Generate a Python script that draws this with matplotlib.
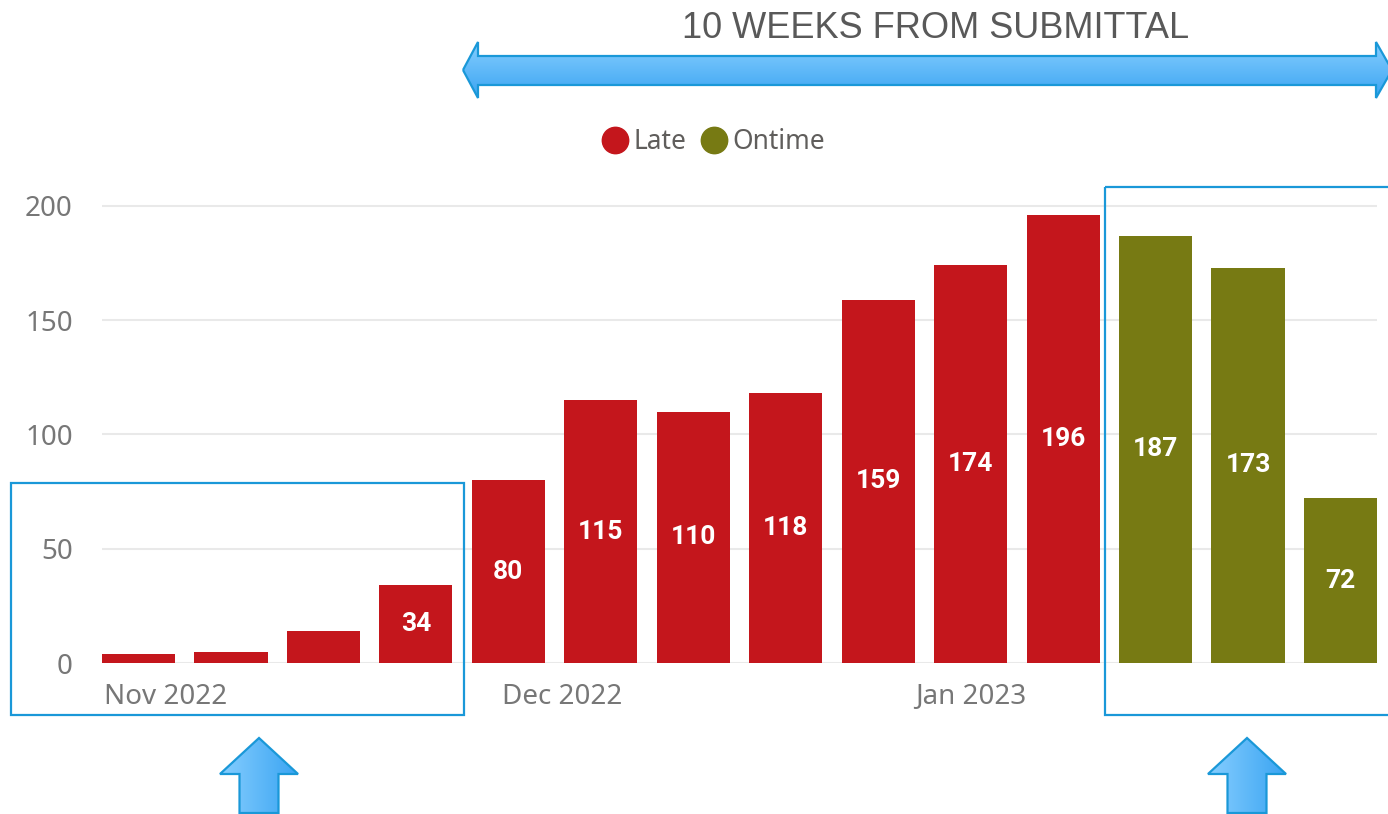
import matplotlib
matplotlib.use("Agg")
import matplotlib.pyplot as plt
import numpy as np
from matplotlib.patches import Polygon, Rectangle
from matplotlib.lines import Line2D
from matplotlib.colors import LinearSegmentedColormap

# ---- data ----
late_values = [4, 5, 14, 34, 80, 115, 110, 118, 159, 174, 196]
ontime_values = [187, 173, 72]
series_names = ["Late", "Ontime"]
month_labels = ["Nov 2022", "Dec 2022", "Jan 2023"]
month_positions = [0.29, 4.58, 9.0]   # in week-bar index units
y_ticks = [0, 50, 100, 150, 200]
min_label_value = 20
title_text = "10 WEEKS FROM SUBMITTAL"

RED = "#C4161C"
OLIVE = "#777A13"
GRID = "#E9E9E9"
TICK = "#777777"

W, H = 1388, 814
fig = plt.figure(figsize=(W / 100, H / 100), dpi=100)

bw = 0.79
n_late = len(late_values)
n_all = n_late + len(ontime_values)
x_late = np.arange(n_late)
x_on = np.arange(n_late, n_all)

# axes placement in pixels
px_left, px_right = 102, 1377
px_zero, px_200 = 663, 206
ymax = 210
ppu = (px_zero - px_200) / 200.0
px_top = px_zero - ymax * ppu
ax = fig.add_axes([px_left / W, (H - px_zero) / H, (px_right - px_left) / W, (px_zero - px_top) / H])

ax.bar(x_late, late_values, width=bw, color=RED, zorder=3)
ax.bar(x_on, ontime_values, width=bw, color=OLIVE, zorder=3)
ax.set_xlim(-bw / 2, n_all - 1 + bw / 2)
ax.set_ylim(0, ymax)

for xs, vals in ((x_late, late_values), (x_on, ontime_values)):
    for x, v in zip(xs, vals):
        if v >= min_label_value:
            ax.text(x, v / 2, str(v), ha="center", va="center", color="white",
                    fontsize=19, fontweight="bold", family="Roboto", zorder=4)

ax.set_yticks(y_ticks)
ax.set_yticklabels([str(t) for t in y_ticks])
ax.tick_params(axis="y", length=0, pad=21, labelsize=20, labelcolor=TICK)
for lab in ax.get_yticklabels():
    lab.set_family("Noto Sans")
ax.set_xticks([])
ax.grid(axis="y", color=GRID, linewidth=1.5, zorder=0)
for s in ax.spines.values():
    s.set_visible(False)

for lbl, pos in zip(month_labels, month_positions):
    ax.text(pos, -0.07, lbl, transform=ax.get_xaxis_transform(), ha="center", va="center",
            fontsize=20, color=TICK, family="Noto Sans")

handles = [Line2D([], [], marker="o", linestyle="", markersize=19, color=RED),
           Line2D([], [], marker="o", linestyle="", markersize=19, color=OLIVE)]
fig.legend(handles, series_names, loc="center", bbox_to_anchor=(707 / W, 1 - 142 / H),
           ncol=2, frameon=False, handletextpad=-0.3, columnspacing=0.05,
           prop={"family": "Noto Sans", "size": 19}, labelcolor="#605E5C")

# ---- overlay annotations (pixel coordinates) ----
ov = fig.add_axes([0, 0, 1, 1], zorder=10)
ov.set_xlim(0, W)
ov.set_ylim(H, 0)
ov.axis("off")

EDGE = "#1A98D8"
cmap = LinearSegmentedColormap.from_list("b", ["#86CEFF", "#3AA4F2"])


def grad_poly(verts, vertical=True):
    verts = np.array(verts, dtype=float)
    x0, x1 = verts[:, 0].min(), verts[:, 0].max()
    y0, y1 = verts[:, 1].min(), verts[:, 1].max()
    g = np.linspace(0, 1, 256)
    img = g.reshape(-1, 1) if vertical else g.reshape(1, -1)
    im = ov.imshow(img, cmap=cmap, extent=(x0, x1, y1, y0), aspect="auto",
                   origin="upper", zorder=1, interpolation="bilinear")
    poly = Polygon(verts, closed=True, facecolor="none", edgecolor=EDGE, lw=1.6, zorder=2)
    ov.add_patch(poly)
    im.set_clip_path(poly)


# double arrow
grad_poly([(463, 70), (478, 42), (478, 56), (1376, 56), (1376, 42), (1392, 70),
           (1376, 98), (1376, 85), (478, 85), (478, 98)], vertical=True)
ov.set_xlim(0, W)
ov.set_ylim(H, 0)


def up_arrow(cx):
    grad_poly([(cx, 738), (cx + 39, 774), (cx + 19.5, 774), (cx + 19.5, 813),
               (cx - 19.5, 813), (cx - 19.5, 774), (cx - 39, 774)], vertical=False)


up_arrow(259)
up_arrow(1247)
ov.set_xlim(0, W)
ov.set_ylim(H, 0)

ov.add_patch(Rectangle((11, 483), 453, 232, fill=False, edgecolor=EDGE, lw=1.6, zorder=3))
ov.add_patch(Rectangle((1105, 187), 300, 528, fill=False, edgecolor=EDGE, lw=1.6, zorder=3))

ov.text(936, 28, title_text, ha="center", va="center", fontsize=26, color="#595959",
        family=["Liberation Sans Narrow", "Liberation Sans"])

fig.savefig("out.png", dpi=100)
